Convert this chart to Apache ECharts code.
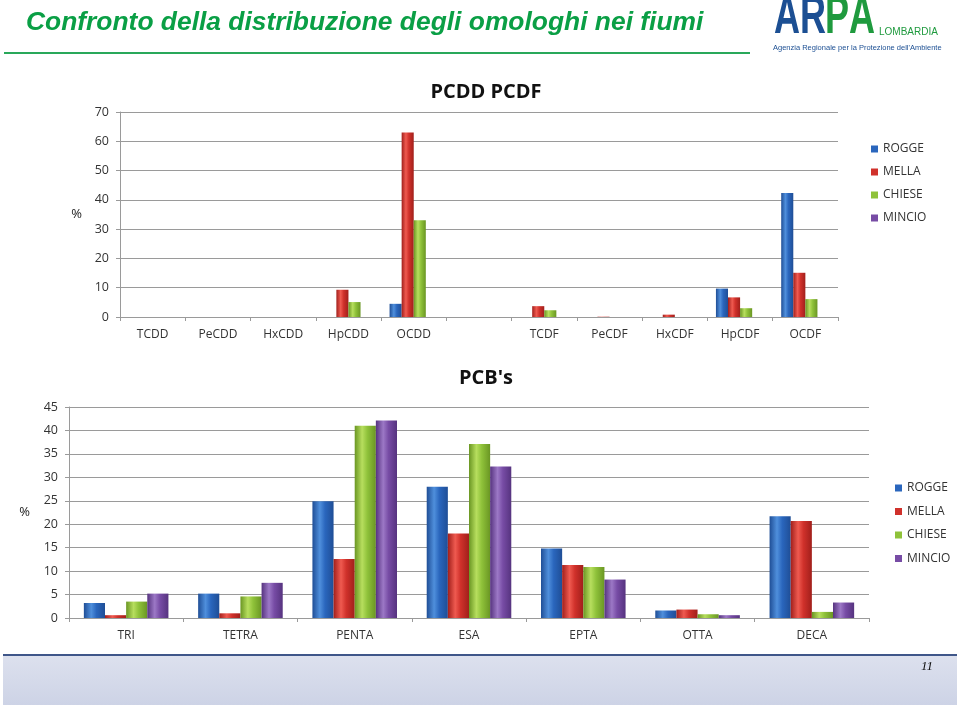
<!DOCTYPE html>
<html><head><meta charset="utf-8">
<script src="https://cdn.jsdelivr.net/npm/echarts@6/dist/echarts.min.js"></script>
<style>html,body{margin:0;padding:0;background:#fff}#c{width:960px;height:706px}</style>
</head><body><div id="c"></div>
<script>
var seriesNames = ['ROGGE', 'MELLA', 'CHIESE', 'MINCIO'];

var pcddCategories = ['TCDD', 'PeCDD', 'HxCDD', 'HpCDD', 'OCDD', '', 'TCDF', 'PeCDF', 'HxCDF', 'HpCDF', 'OCDF'];
var pcddRogge  = [0, 0, 0, 0,   4.5, 0, 0,   0,   0,   9.7, 42.3];
var pcddMella  = [0, 0, 0, 9.3, 63,  0, 3.7, 0.1, 0.8, 6.7, 15.1];
var pcddChiese = [0, 0, 0, 5.1, 33,  0, 2.3, 0,   0,   3.0, 6.1];
var pcddMincio = [0, 0, 0, 0,   0,   0, 0,   0,   0,   0,   0];
var pcddTicks = [0, 10, 20, 30, 40, 50, 60, 70];

var pcbCategories = ['TRI', 'TETRA', 'PENTA', 'ESA', 'EPTA', 'OTTA', 'DECA'];
var pcbRogge  = [3.2, 5.2, 24.9, 28.0, 14.8, 1.6, 21.7];
var pcbMella  = [0.6, 1.0, 12.6, 18.0, 11.3, 1.8, 20.7];
var pcbChiese = [3.5, 4.6, 41.0, 37.1, 10.9, 0.8, 1.3];
var pcbMincio = [5.2, 7.5, 42.1, 32.3, 8.2,  0.6, 3.3];
var pcbTicks = [0, 5, 10, 15, 20, 25, 30, 35, 40, 45];

var palette = [
  ['#1f4e96', '#4f8fdc', '#2a66bd'],
  ['#a11f1b', '#ef5a50', '#d0312b'],
  ['#6a9623', '#b7de5e', '#8fc23a'],
  ['#56337f', '#9c78c6', '#774ca5']
];
function grad(i) {
  var p = palette[i];
  return new echarts.graphic.LinearGradient(0, 0, 1, 0, [
    {offset: 0, color: p[0]}, {offset: 0.35, color: p[1]}, {offset: 0.6, color: p[2]}, {offset: 1, color: p[0]}
  ]);
}

var font = 'Open Sans, Liberation Sans, sans-serif';
var topData = [pcddRogge, pcddMella, pcddChiese, pcddMincio];
var botData = [pcbRogge, pcbMella, pcbChiese, pcbMincio];
var series = [];
seriesNames.forEach(function (n, i) {
  series.push({type: 'bar', name: n, xAxisIndex: 0, yAxisIndex: 0, data: topData[i],
    barGap: '0%', barCategoryGap: '26%', itemStyle: {color: grad(i)}, silent: true});
});
seriesNames.forEach(function (n, i) {
  series.push({type: 'bar', name: n, xAxisIndex: 1, yAxisIndex: 1, data: botData[i],
    barGap: '0%', barCategoryGap: '26%', itemStyle: {color: grad(i)}, silent: true});
});

function yAx(idx, ticks, gap) {
  return {type: 'value', gridIndex: idx, min: ticks[0], max: ticks[ticks.length - 1],
    interval: ticks[1] - ticks[0],
    name: '%', nameLocation: 'middle', nameRotate: 0, nameGap: gap,
    nameTextStyle: {fontFamily: font, fontSize: 13, color: '#222'},
    axisLine: {show: true, lineStyle: {color: '#9a9a9a'}},
    axisTick: {show: true, length: 4, lineStyle: {color: '#9a9a9a'}},
    axisLabel: {fontFamily: font, fontSize: 12.5, color: '#333', margin: 11},
    splitLine: {lineStyle: {color: '#9a9a9a', width: 1}}};
}
function xAx(idx, cats) {
  return {type: 'category', gridIndex: idx, data: cats,
    axisLine: {lineStyle: {color: '#9a9a9a'}},
    axisTick: {show: true, length: 4, inside: false, lineStyle: {color: '#9a9a9a'}},
    axisLabel: {fontFamily: font, fontSize: 12, color: '#333', margin: 12, interval: 0}};
}

var legendBase = {orient: 'vertical', itemWidth: 7, itemHeight: 7, icon: 'rect',
  textStyle: {fontFamily: font, fontSize: 12, color: '#333'}, selectedMode: false,
  data: seriesNames.map(function (n, i) { return {name: n, itemStyle: {color: palette[i][2]}}; })};

var logoFont = 'bold 53px Liberation Sans, Arial, sans-serif';
function letter(ch, x, col) {
  return {type: 'text', x: x, y: -8, scaleX: 0.68, style: {text: ch, font: logoFont, fill: col}};
}

var option = {
  animation: false,
  backgroundColor: '#fff',
  title: [
    {text: 'PCDD PCDF', left: 481, top: 77, textAlign: 'center',
      textStyle: {fontFamily: font, fontWeight: 'bold', fontSize: 20, color: '#111'}},
    {text: "PCB's", left: 481, top: 363, textAlign: 'center',
      textStyle: {fontFamily: font, fontWeight: 'bold', fontSize: 20, color: '#111'}}
  ],
  legend: [
    Object.assign({}, legendBase, {left: 866, top: 138, itemGap: 11}),
    Object.assign({}, legendBase, {left: 890, top: 477, itemGap: 11.5})
  ],
  grid: [
    {left: 120, right: 122, top: 112, bottom: 389},
    {left: 69, right: 91, top: 407, bottom: 88}
  ],
  xAxis: [xAx(0, pcddCategories), xAx(1, pcbCategories)],
  yAxis: [yAx(0, pcddTicks, 38), yAx(1, pcbTicks, 39)],
  series: series,
  graphic: [
    {type: 'text', left: 26, top: 10, style: {text: 'Confronto della distribuzione degli omologhi nei fiumi',
      font: 'italic bold 26.4px Liberation Sans, Arial, sans-serif', fill: '#0a9f45'}},
    {type: 'rect', shape: {x: 4, y: 52, width: 746, height: 2}, style: {fill: '#29a85a'}},
    letter('A', 774, '#1c4f93'),
    letter('R', 800, '#1c4f93'),
    letter('P', 825, '#1f9a3e'),
    letter('A', 849, '#1f9a3e'),
    {type: 'text', left: 879, top: 27, style: {text: 'LOMBARDIA', font: '10px Liberation Sans, Arial, sans-serif', fill: '#1f9a3e'}},
    {type: 'text', left: 773, top: 44, style: {text: "Agenzia Regionale per la Protezione dell'Ambiente", font: '7.5px Liberation Sans, Arial, sans-serif', fill: '#1c4f93'}},
    {type: 'rect', shape: {x: 3, y: 654, width: 954, height: 51},
      style: {fill: new echarts.graphic.LinearGradient(0, 0, 0, 1, [{offset: 0, color: '#dde1ee'}, {offset: 1, color: '#cdd3e6'}])}},
    {type: 'rect', shape: {x: 3, y: 654, width: 954, height: 2}, style: {fill: '#3f5689'}},
    {type: 'text', left: 921, top: 660, style: {text: '11', font: 'italic 13px Liberation Serif, serif', fill: '#111'}}
  ]
};
echarts.init(document.getElementById('c'), null, {renderer: 'canvas'}).setOption(option);
</script></body></html>
